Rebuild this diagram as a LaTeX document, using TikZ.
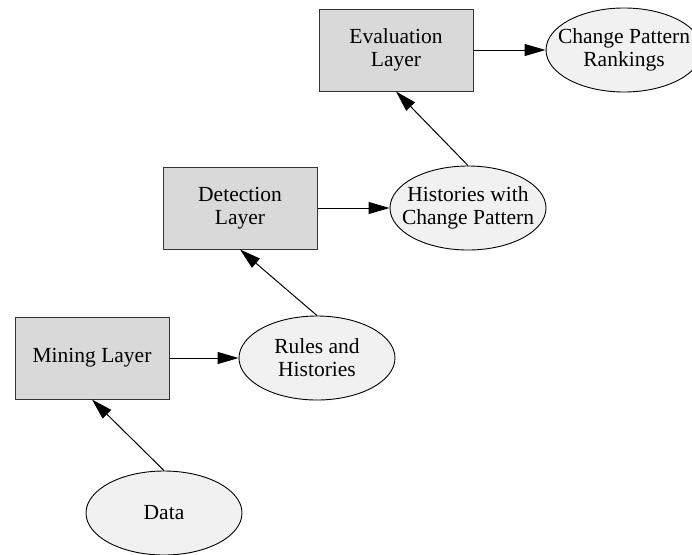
\documentclass[tikz,border=0pt]{standalone}
\usepackage{fontspec}
\setmainfont{Liberation Serif}
\usetikzlibrary{shapes.geometric,arrows.meta}
\definecolor{boxfill}{HTML}{D9D9D9}
\definecolor{ellfill}{HTML}{F1F1F1}
\begin{document}
\begin{tikzpicture}[x=1pt,y=-1pt,
  layerbox/.style={draw=black!80,fill=boxfill,line width=1pt,minimum width=154pt,minimum height=82pt,inner sep=0pt,align=center,font=\fontsize{21.5}{23}\selectfont},
  dataell/.style={ellipse,draw=black,fill=ellfill,line width=0.9pt,minimum width=156pt,minimum height=84pt,inner xsep=-20pt,inner ysep=-5pt,align=center,font=\fontsize{21.5}{23}\selectfont},
  conn/.style={line width=1pt,-{Triangle[length=21pt,width=12pt]}}]
\useasboundingbox (0,0) rectangle (692,554);
\node[layerbox] (eval) at (396,50) {Evaluation\\Layer};
\node[dataell] (rank) at (624,50) {Change Pattern\\Rankings};
\node[layerbox] (det) at (240,208) {Detection\\Layer};
\node[dataell] (hist) at (468,208) {Histories with\\Change Pattern};
\node[layerbox] (mine) at (92,358) {Mining Layer};
\node[dataell] (rules) at (317,358) {Rules and\\Histories};
\node[dataell] (data) at (164,513) {Data};
\draw[conn] (data.north) -- (mine.south);
\draw[conn] (mine.east) -- (rules.west);
\draw[conn] (rules.north) -- (det.south);
\draw[conn] (det.east) -- (hist.west);
\draw[conn] (hist.north) -- (eval.south);
\draw[conn] (eval.east) -- (rank.west);
\end{tikzpicture}
\end{document}
